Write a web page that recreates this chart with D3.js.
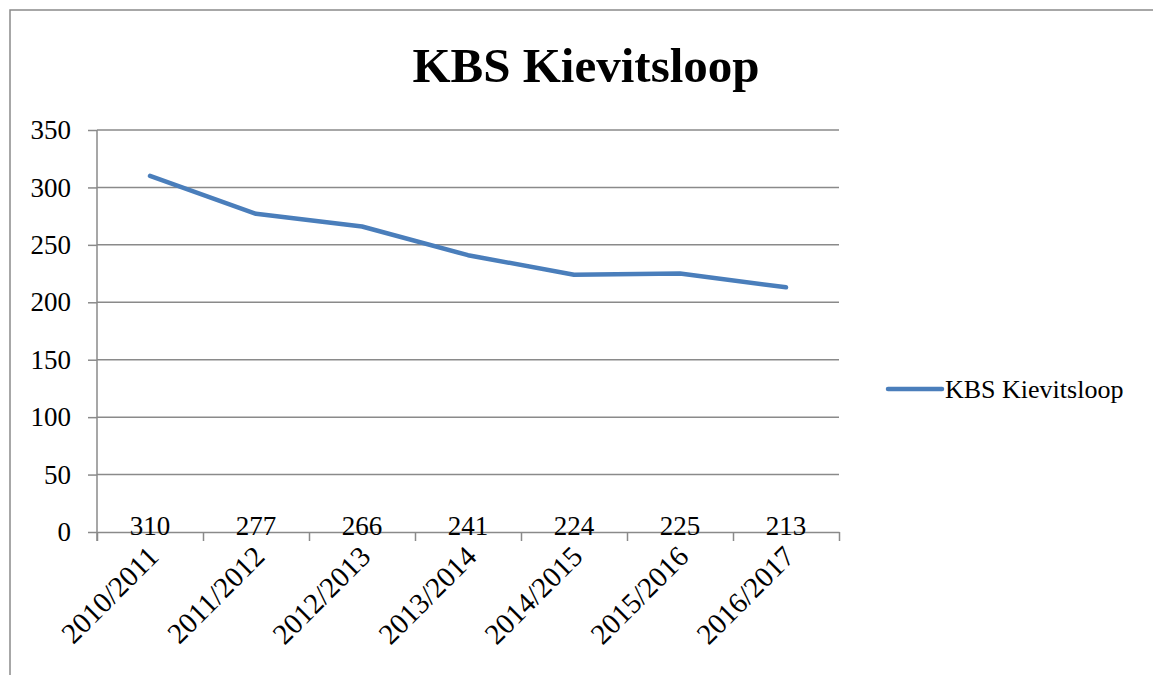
<!DOCTYPE html>
<html>
<head>
<meta charset="utf-8">
<script src="https://cdnjs.cloudflare.com/ajax/libs/d3/7.8.5/d3.min.js"></script>
<style>
  body { margin: 0; background: #fff; }
  text { font-family: "Liberation Serif", "DejaVu Serif", serif; fill: #000; }
</style>
</head>
<body>
<script>
const categories = ["2010/2011", "2011/2012", "2012/2013", "2013/2014", "2014/2015", "2015/2016", "2016/2017"]
const values = [310, 277, 266, 241, 224, 225, 213]
const yTicks = [0, 50, 100, 150, 200, 250, 300, 350]
const seriesName = "KBS Kievitsloop"

const W = 1153, H = 675
let plot = { left: 97, right: 839, top: 130, bottom: 532 }

let svg = d3.select("body").append("svg")
    .attr("width", W)
    .attr("height", H)

// outer chart frame (cut off on the right and bottom)
svg.append("rect")
    .attr("x", 10).attr("y", 10)
    .attr("width", W + 20).attr("height", H + 20)
    .attr("fill", "none")
    .attr("stroke", "#8a8a8a")
    .attr("stroke-width", 1.5)

let x = d3.scaleBand().domain(categories).range([plot.left, plot.right])
let xEdges = d3.scaleLinear().domain([0, categories.length]).range([plot.left, plot.right])
let y = d3.scaleLinear().domain([0, 350]).range([plot.bottom, plot.top])

// title
svg.append("text")
    .attr("x", 586).attr("y", 82)
    .attr("text-anchor", "middle")
    .attr("font-size", 49)
    .attr("font-weight", "bold")
    .text(seriesName)

// gridlines
svg.append("g").selectAll("line")
    .data(yTicks.filter(d => d > 0))
    .enter().append("line")
    .attr("x1", plot.left).attr("x2", plot.right)
    .attr("y1", d => y(d)).attr("y2", d => y(d))
    .attr("stroke", "#8a8a8a")
    .attr("stroke-width", 1.5)

// y axis
let yAxis = svg.append("g")
    .attr("transform", "translate(" + plot.left + ",0)")
    .call(d3.axisLeft(y).tickValues(yTicks).tickSize(9).tickPadding(17))
yAxis.select(".domain").attr("d", "M0," + plot.top + "V" + (plot.bottom + 9))
yAxis.selectAll("line, path").attr("stroke", "#8a8a8a").attr("stroke-width", 1.5)
yAxis.selectAll("text")
    .attr("font-size", 27)
    .attr("font-family", "Liberation Serif")
    .attr("fill", "#000")

// x axis (ticks between categories)
let xAxis = svg.append("g")
    .attr("transform", "translate(0," + plot.bottom + ")")
    .call(d3.axisBottom(xEdges).tickValues(d3.range(categories.length + 1)).tickFormat("").tickSize(9).tickSizeOuter(0))
xAxis.selectAll("line, path").attr("stroke", "#8a8a8a").attr("stroke-width", 1.5)

// rotated category labels
svg.append("g").selectAll("text")
    .data(categories)
    .enter().append("text")
    .attr("transform", d => "translate(" + (x(d) + x.bandwidth() / 2 + 3) + "," + (plot.bottom + 19) + ") rotate(-45)")
    .attr("text-anchor", "end")
    .attr("dy", "0.35em")
    .attr("font-size", 29)
    .text(d => d)

// data labels sitting on the axis
svg.append("g").selectAll("text")
    .data(values)
    .enter().append("text")
    .attr("x", (d, i) => x(categories[i]) + x.bandwidth() / 2)
    .attr("y", plot.bottom + 3)
    .attr("text-anchor", "middle")
    .attr("font-size", 27)
    .text(d => d)

// the line
let line = d3.line()
    .x((d, i) => x(categories[i]) + x.bandwidth() / 2)
    .y(d => y(d))

svg.append("path")
    .datum(values)
    .attr("d", line)
    .attr("fill", "none")
    .attr("stroke", "#4a7ebb")
    .attr("stroke-width", 4.5)
    .attr("stroke-linecap", "round")
    .attr("stroke-linejoin", "round")

// legend
svg.append("line")
    .attr("x1", 888).attr("x2", 942)
    .attr("y1", 389).attr("y2", 389)
    .attr("stroke", "#4a7ebb")
    .attr("stroke-width", 4.5)
    .attr("stroke-linecap", "round")
svg.append("text")
    .attr("x", 945).attr("y", 398)
    .attr("font-size", 26)
    .text(seriesName)
</script>
</body>
</html>
